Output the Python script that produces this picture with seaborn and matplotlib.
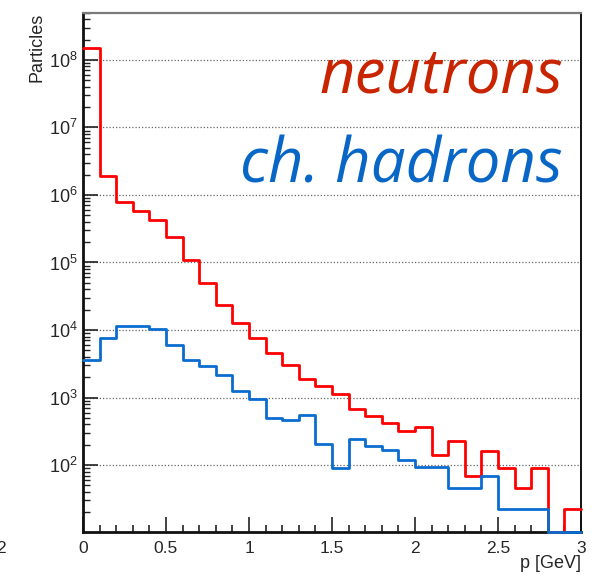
import numpy as np
import pandas as pd
import matplotlib
matplotlib.use("Agg")
import matplotlib.pyplot as plt
import matplotlib.ticker as mticker
import seaborn as sns

# Momentum binning (GeV): 30 bins of 0.1 from 0 to 3
n_bins = 30
p_range = (0.0, 3.0)
bin_centers = np.round(np.arange(n_bins) * 0.1 + 0.05, 3)

# Particle counts per momentum bin
neutrons = [1.5e8, 1.93e6, 7.9e5, 5.8e5, 4.3e5, 2.4e5, 1.08e5, 4.9e4, 2.37e4, 1.26e4,
            7.5e3, 4.6e3, 3.0e3, 1.9e3, 1.46e3, 1.12e3, 6.7e2, 5.4e2, 4.2e2, 3.2e2,
            3.7e2, 1.4e2, 2.3e2, 70, 1.6e2, 92, 46, 92, 0, 22.5]
ch_hadrons = [3.6e3, 7.7e3, 1.13e4, 1.13e4, 1.03e4, 6.0e3, 3.6e3, 2.9e3, 2.15e3, 1.23e3,
              9.5e2, 5.0e2, 4.6e2, 5.5e2, 2.06e2, 92, 2.4e2, 1.9e2, 1.67e2, 1.17e2,
              93, 93, 46, 46, 69, 22.5, 22.5, 22.5, 0, 0]

x_ticks = [0, 0.5, 1, 1.5, 2, 2.5, 3]
x_tick_labels = ["0", "0.5", "1", "1.5", "2", "2.5", "3"]
y_min, y_max = 10.1, 5.0e8

neutron_line = "#ff0000"
hadron_line = "#0b6ccf"
neutron_text = "#c92400"
hadron_text = "#0866c6"

sns.set_style("ticks")
plt.rcParams["font.family"] = ["Liberation Sans", "DejaVu Sans"]
plt.rcParams["mathtext.fontset"] = "custom"
plt.rcParams["mathtext.rm"] = "Liberation Sans"

fig = plt.figure(figsize=(6.02, 5.77), dpi=100)
ax = fig.add_axes([83 / 602, 1 - 532.3 / 577, 498 / 602, 519.6 / 577])

# Empty bins are shown on the lower frame edge, as in a log-scale histogram
df = pd.DataFrame({
    "p": np.concatenate([bin_centers, bin_centers]),
    "count": np.clip(np.concatenate([neutrons, ch_hadrons]), y_min, None),
    "species": ["neutrons"] * n_bins + ["ch. hadrons"] * n_bins,
})

for species, color in [("neutrons", neutron_line), ("ch. hadrons", hadron_line)]:
    sns.histplot(data=df[df["species"] == species], x="p", weights="count",
                 bins=n_bins, binrange=p_range, element="step", fill=False,
                 color=color, linewidth=2.0, ax=ax, zorder=4, clip_on=False)

ax.set_yscale("log")
ax.set_xlim(*p_range)
ax.set_ylim(y_min, y_max)

# Axis ticks pointing inward
ax.set_xticks(x_ticks)
ax.set_xticklabels(x_tick_labels)
ax.xaxis.set_minor_locator(mticker.MultipleLocator(0.1))
ax.yaxis.set_major_locator(mticker.LogLocator(base=10, numticks=12))
ax.yaxis.set_minor_locator(mticker.LogLocator(base=10, subs=np.arange(2, 10), numticks=12))
ax.yaxis.set_minor_formatter(mticker.NullFormatter())
ax.tick_params(axis="x", which="major", direction="in", length=11, width=1.2,
               labelsize=12.5, pad=6, color="#222222")
ax.tick_params(axis="x", which="minor", direction="in", length=5, width=1.2, color="#222222")
ax.tick_params(axis="y", which="major", direction="in", length=10.5, width=1.2,
               labelsize=13, pad=4, color="#222222")
ax.tick_params(axis="y", which="minor", direction="in", length=5, width=1.0, color="#222222")
ax.tick_params(top=False, right=False, which="both")

# Dotted horizontal grid at the decades
ax.grid(False)
ax.yaxis.grid(True, which="major", linestyle=(0, (1, 1.6)), linewidth=0.9, color="#666666")
ax.set_axisbelow(True)

for side in ["left", "bottom"]:
    ax.spines[side].set_linewidth(2.0)
    ax.spines[side].set_color("#111111")
ax.spines["top"].set_linewidth(1.6)
ax.spines["top"].set_color("#7a7a7a")
ax.spines["right"].set_linewidth(1.4)
ax.spines["right"].set_color("#111111")
ax.spines["top"].set_visible(True)
ax.spines["right"].set_visible(True)

ax.set_ylabel("Particles", fontsize=13, loc="top")
ax.yaxis.set_label_coords(-0.075, 1.0)
ax.set_xlabel("p [GeV]", fontsize=13, loc="right")
ax.xaxis.set_label_coords(1.0, -0.044)

ax.text(0.964, 0.8455, "neutrons", transform=ax.transAxes, ha="right", va="baseline",
        fontsize=44.5, style="italic", color=neutron_text, family=["Open Sans", "DejaVu Sans"])
ax.text(0.964, 0.674, "ch. hadrons", transform=ax.transAxes, ha="right", va="baseline",
        fontsize=44.5, style="italic", color=hadron_text, family=["Open Sans", "DejaVu Sans"])

fig.text(6 / 602, 1 - 541 / 577, "2", ha="right", va="top", fontsize=12.5)

fig.savefig("out.png", dpi=100)
